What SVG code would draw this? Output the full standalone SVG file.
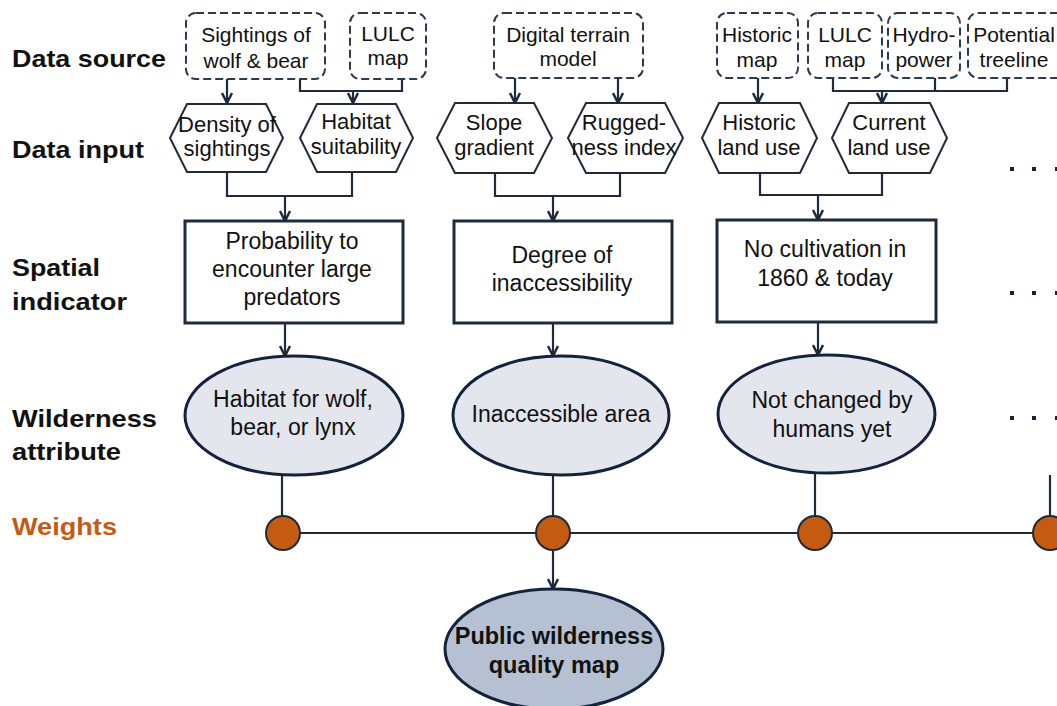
<svg xmlns="http://www.w3.org/2000/svg" width="1057" height="706" viewBox="0 0 1057 706">
<defs>
<marker id="arr" viewBox="0 0 12 12" refX="11" refY="6" markerWidth="12" markerHeight="12" markerUnits="userSpaceOnUse" orient="auto">
<path d="M1,1 L11,6 L1,11" fill="none" stroke="#1f2a3a" stroke-width="2.5"/>
</marker>
<style>
text{font-family:"Liberation Sans",Arial,sans-serif;fill:#111;text-anchor:middle}
.lab{font-weight:bold;font-size:24px;text-anchor:start}
.src{fill:#fff;stroke:#2c3a4e;stroke-width:2;stroke-dasharray:8,4}
.hex{fill:#fff;stroke:#1f2a3a;stroke-width:2}
.box{fill:#fff;stroke:#1f2a3a;stroke-width:3}
.ell{fill:#e3e6ec;stroke:#13233d;stroke-width:3}
.fin{fill:#b5c1d2;stroke:#13233d;stroke-width:3}
.w{fill:#c55a11;stroke:#1f2a3a;stroke-width:2}
.t21{font-size:21px}
.t22{font-size:22px}
.t23{font-size:23px}
.c{fill:none;stroke:#1f2a3a;stroke-width:2.2}
.a{marker-end:url(#arr)}
.dot{fill:#13233d}
</style>
</defs>
<rect width="1057" height="706" fill="#fff"/>

<g id="labels">
<text class="lab" x="12" y="67" textLength="154" lengthAdjust="spacingAndGlyphs">Data source</text>
<text class="lab" x="12" y="158" textLength="132" lengthAdjust="spacingAndGlyphs">Data input</text>
<text class="lab" x="12" y="276" textLength="88" lengthAdjust="spacingAndGlyphs">Spatial</text>
<text class="lab" x="12" y="310" textLength="115" lengthAdjust="spacingAndGlyphs">indicator</text>
<text class="lab" x="12" y="427" textLength="145" lengthAdjust="spacingAndGlyphs">Wilderness</text>
<text class="lab" x="12" y="460" textLength="109" lengthAdjust="spacingAndGlyphs">attribute</text>
<text class="lab" x="12" y="535" textLength="105" lengthAdjust="spacingAndGlyphs" style="fill:#c55a11">Weights</text>
</g>

<g id="connectors">
<line class="c a" x1="227" y1="79" x2="227" y2="103"/>
<polyline class="c" points="300,79 300,91 402,91 402,79"/>
<line class="c a" x1="353" y1="91" x2="353" y2="103"/>
<line class="c a" x1="515" y1="78" x2="515" y2="103"/>
<line class="c a" x1="618" y1="78" x2="618" y2="103"/>
<line class="c a" x1="758" y1="78" x2="758" y2="103"/>
<polyline class="c" points="833,78 833,91 1007,91 1007,78"/>
<line class="c" x1="935" y1="78" x2="935" y2="91"/>
<line class="c a" x1="882" y1="91" x2="882" y2="103"/>
<polyline class="c" points="227,172 227,196 352,196 352,172"/>
<line class="c a" x1="285" y1="196" x2="285" y2="221"/>
<polyline class="c" points="495,173 495,196 620,196 620,173"/>
<line class="c a" x1="553" y1="196" x2="553" y2="221"/>
<polyline class="c" points="760,173 760,195 882,195 882,173"/>
<line class="c a" x1="818" y1="195" x2="818" y2="220"/>
<line class="c a" x1="285" y1="323" x2="285" y2="356"/>
<line class="c a" x1="553" y1="323" x2="553" y2="356"/>
<line class="c a" x1="818" y1="322" x2="818" y2="355"/>
<line class="c" x1="282" y1="475" x2="282" y2="516"/>
<line class="c" x1="553" y1="475" x2="553" y2="516"/>
<line class="c" x1="815" y1="473" x2="815" y2="516"/>
<line class="c" x1="1050" y1="475" x2="1050" y2="516"/>
<line class="c" x1="283" y1="533" x2="1057" y2="533"/>
<line class="c a" x1="553" y1="550" x2="553" y2="589"/>
</g>

<g id="src-sightings"><rect class="src" x="186" y="13" width="139" height="66" rx="10"/><text class="t21" x="256" y="42">Sightings of</text><text class="t21" x="256" y="68">wolf &amp; bear</text></g>
<g id="src-lulc1"><rect class="src" x="350" y="13" width="76" height="66" rx="10"/><text class="t21" x="388" y="41">LULC</text><text class="t21" x="388" y="65">map</text></g>
<g id="src-dtm"><rect class="src" x="494" y="13" width="149" height="65" rx="10"/><text class="t21" x="568" y="42">Digital terrain</text><text class="t21" x="568" y="66">model</text></g>
<g id="src-historic"><rect class="src" x="717" y="13" width="81" height="65" rx="10"/><text class="t21" x="757" y="42">Historic</text><text class="t21" x="757" y="67">map</text></g>
<g id="src-lulc2"><rect class="src" x="808" y="13" width="74" height="65" rx="10"/><text class="t21" x="845" y="42">LULC</text><text class="t21" x="845" y="67">map</text></g>
<g id="src-hydro"><rect class="src" x="888" y="13" width="72" height="65" rx="10"/><text class="t21" x="924" y="42">Hydro-</text><text class="t21" x="924" y="67">power</text></g>
<g id="src-treeline"><rect class="src" x="968" y="13" width="100" height="65" rx="10"/><text class="t21" x="1014" y="42">Potential</text><text class="t21" x="1014" y="67">treeline</text></g>

<g id="in-density"><polygon class="hex" points="170,138 187,104 266,104 283,138 266,172 187,172"/><text class="t22" x="227" y="132">Density of</text><text class="t22" x="227" y="156">sightings</text></g>
<g id="in-habitat"><polygon class="hex" points="300,138 317,104 396,104 413,138 396,172 317,172"/><text class="t22" x="356" y="129">Habitat</text><text class="t22" x="356" y="154">suitability</text></g>
<g id="in-slope"><polygon class="hex" points="437,138 455,103 534,103 552,138 534,173 455,173"/><text class="t22" x="494" y="130">Slope</text><text class="t22" x="494" y="155">gradient</text></g>
<g id="in-rugged"><polygon class="hex" points="568,138 586,103 665,103 683,138 665,173 586,173"/><text class="t22" x="624" y="130">Rugged-</text><text class="t22" x="624" y="155">ness index</text></g>
<g id="in-historic"><polygon class="hex" points="702,138 719,103 800,103 817,138 800,173 719,173"/><text class="t22" x="759" y="130">Historic</text><text class="t22" x="759" y="155">land use</text></g>
<g id="in-current"><polygon class="hex" points="832,138 849,103 930,103 947,138 930,173 849,173"/><text class="t22" x="889" y="130">Current</text><text class="t22" x="889" y="155">land use</text></g>

<g id="ind-predators"><rect class="box" x="185" y="221" width="218" height="102"/><text class="t23" x="292" y="249">Probability to</text><text class="t23" x="292" y="277">encounter large</text><text class="t23" x="292" y="305">predators</text></g>
<g id="ind-inaccess"><rect class="box" x="454" y="221" width="218" height="102"/><text class="t23" x="562" y="263">Degree of</text><text class="t23" x="562" y="291">inaccessibility</text></g>
<g id="ind-cultivation"><rect class="box" x="717" y="220" width="219" height="102"/><text class="t23" x="825" y="257">No cultivation in</text><text class="t23" x="825" y="286">1860 &amp; today</text></g>

<g id="attr-habitat"><ellipse class="ell" cx="294" cy="415.5" rx="109" ry="59.5"/><text class="t23" x="293" y="407">Habitat for wolf,</text><text class="t23" x="293" y="435">bear, or lynx</text></g>
<g id="attr-inaccess"><ellipse class="ell" cx="561" cy="415.5" rx="108" ry="59.5"/><text class="t23" x="561" y="422">Inaccessible area</text></g>
<g id="attr-unchanged"><ellipse class="ell" cx="826.5" cy="414" rx="108.5" ry="59"/><text class="t23" x="832" y="408">Not changed by</text><text class="t23" x="832" y="437">humans yet</text></g>

<g id="dots">
<rect class="dot" x="1010" y="167" width="4" height="4"/><rect class="dot" x="1032" y="167" width="4" height="4"/><rect class="dot" x="1055" y="167" width="4" height="4"/>
<rect class="dot" x="1010" y="291" width="4" height="4"/><rect class="dot" x="1032" y="291" width="4" height="4"/><rect class="dot" x="1055" y="291" width="4" height="4"/>
<rect class="dot" x="1010" y="416" width="4" height="4"/><rect class="dot" x="1032" y="416" width="4" height="4"/><rect class="dot" x="1055" y="416" width="4" height="4"/>
</g>

<g id="weights">
<circle class="w" cx="283" cy="533" r="17"/>
<circle class="w" cx="553" cy="533" r="17"/>
<circle class="w" cx="815" cy="533" r="17"/>
<circle class="w" cx="1050" cy="533" r="17"/>
</g>

<g id="final-map"><ellipse class="fin" cx="554" cy="649" rx="109" ry="60"/><text x="554" y="644" style="font-size:23.5px;font-weight:bold">Public wilderness</text><text x="554" y="673" style="font-size:23.5px;font-weight:bold">quality map</text></g>
</svg>
